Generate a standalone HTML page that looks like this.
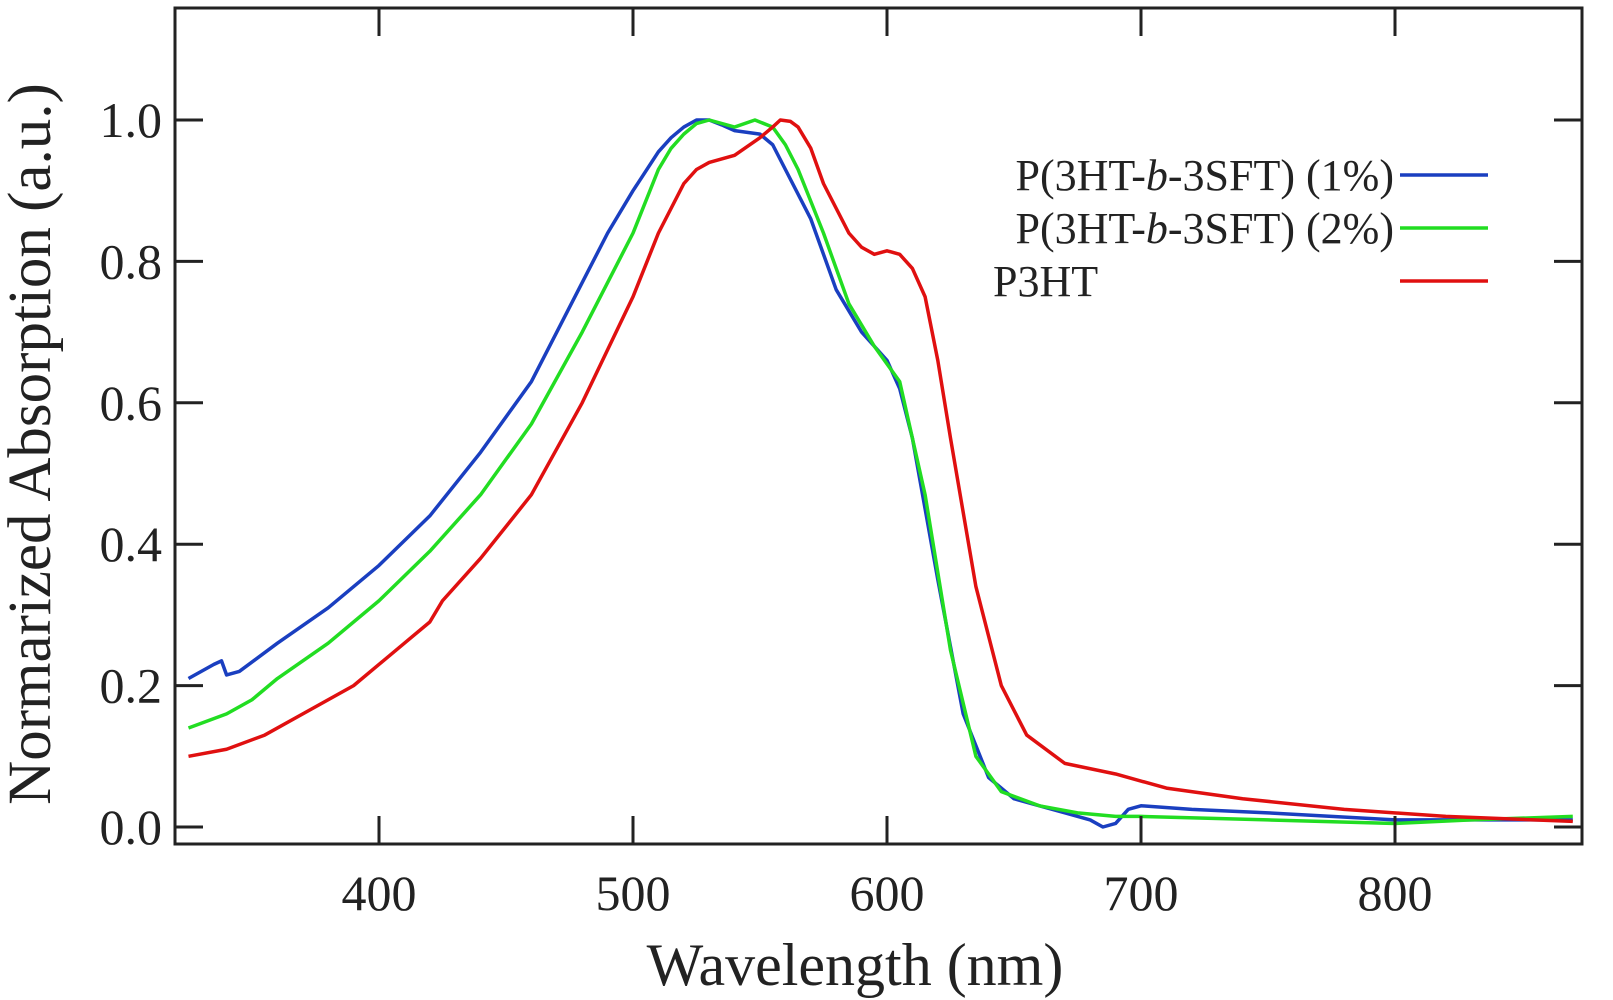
<!DOCTYPE html>
<html><head><meta charset="utf-8"><style>
body{margin:0;background:#fff}
svg{display:block;font-family:"Liberation Serif",serif}
</style></head><body>
<svg id="chart" width="1613" height="1000"></svg>
<script>
const xTicks=[400,500,600,700,800];
const yTicks=[0.0,0.2,0.4,0.6,0.8,1.0];
const yTickLabels=["0.0","0.2","0.4","0.6","0.8","1.0"];
const seriesNames=["P(3HT-b-3SFT) (1%)","P(3HT-b-3SFT) (2%)","P3HT"];
const blueWl=[325,335,338,340,345,360,380,400,420,440,460,480,490,500,510,515,520,525,530,535,540,550,555,560,570,580,590,600,605,610,620,630,640,650,660,670,680,685,690,695,700,720,750,800,870];
const blueAbs=[0.21,0.23,0.235,0.215,0.22,0.26,0.31,0.37,0.44,0.53,0.63,0.77,0.84,0.90,0.955,0.975,0.99,1.0,1.0,0.993,0.985,0.98,0.965,0.93,0.86,0.76,0.70,0.66,0.62,0.55,0.35,0.16,0.07,0.04,0.03,0.02,0.01,0.0,0.005,0.025,0.03,0.025,0.02,0.01,0.01];
const greenWl=[325,340,350,360,380,400,420,440,460,480,500,510,515,520,525,530,540,548,555,560,565,575,585,595,605,615,625,635,645,660,675,690,700,750,800,830,870];
const greenAbs=[0.14,0.16,0.18,0.21,0.26,0.32,0.39,0.47,0.57,0.70,0.84,0.93,0.96,0.98,0.995,1.0,0.99,1.0,0.99,0.965,0.93,0.84,0.74,0.68,0.63,0.47,0.25,0.10,0.05,0.03,0.02,0.015,0.015,0.01,0.005,0.01,0.015];
const redWl=[325,340,355,370,390,410,420,425,440,460,480,500,510,520,525,530,540,550,555,558,562,565,570,575,585,590,595,600,605,610,615,620,625,635,645,655,670,690,710,740,780,820,870];
const redAbs=[0.10,0.11,0.13,0.16,0.20,0.26,0.29,0.32,0.38,0.47,0.60,0.75,0.84,0.91,0.93,0.94,0.95,0.975,0.99,1.0,0.998,0.99,0.96,0.91,0.84,0.82,0.81,0.815,0.81,0.79,0.75,0.66,0.55,0.34,0.20,0.13,0.09,0.075,0.055,0.04,0.025,0.015,0.008];

const L=175,R=1582,T=8,B=844;
const X=v=>379+(v-400)*2.54;
const Y=v=>827-v*707;
const svg=document.getElementById('chart');
const NS='http://www.w3.org/2000/svg';
function mk(tag,attrs,parent){const e=document.createElementNS(NS,tag);for(const k in attrs)e.setAttribute(k,attrs[k]);(parent||svg).appendChild(e);return e;}

const clip=mk('clipPath',{id:'pc'});mk('rect',{x:L,y:T,width:R-L,height:B-T},clip);
const plot=mk('g',{'clip-path':'url(#pc)'});
const series=[[blueWl,blueAbs,'#1a3fc0','blue'],[greenWl,greenAbs,'#22dd22','green'],[redWl,redAbs,'#e01010','red']];
series.forEach(([w,a,c,n])=>{
  const p=mk('polyline',{points:w.map((v,i)=>X(v)+','+Y(a[i])).join(' '),fill:'none',stroke:c,'stroke-width':3.5,'stroke-linejoin':'round'},plot);
  
  
});

const frame=mk('rect',{x:L,y:T,width:R-L,height:B-T,fill:'none',stroke:'#222','stroke-width':3});



xTicks.forEach(v=>{
  mk('line',{x1:X(v),x2:X(v),y1:B,y2:B-28,stroke:'#222','stroke-width':3});
  mk('line',{x1:X(v),x2:X(v),y1:T,y2:T+28,stroke:'#222','stroke-width':3});
  const t=mk('text',{x:X(v),y:910,'font-size':50,'text-anchor':'middle',fill:'#222'});
  t.textContent=v;
  
  
});
yTicks.forEach((v,i)=>{
  mk('line',{x1:L,x2:L+28,y1:Y(v),y2:Y(v),stroke:'#222','stroke-width':3});
  mk('line',{x1:R,x2:R-28,y1:Y(v),y2:Y(v),stroke:'#222','stroke-width':3});
  const t=mk('text',{x:162,y:Y(v)+17,'font-size':50,'text-anchor':'end',fill:'#222'});
  t.textContent=yTickLabels[i];
  
  
});

const xt=mk('text',{x:855,y:985,'font-size':60,'text-anchor':'middle',fill:'#222'});
xt.textContent='Wavelength (nm)';


const yt=mk('text',{x:0,y:0,'font-size':61,'text-anchor':'middle',fill:'#222',transform:'translate(50,444) rotate(-90)'});
yt.textContent='Normarized Absorption (a.u.)';



const legY=[175,228,281];
series.forEach(([w,a,c,n],i)=>{
  const g=mk('g',{});
  
  
  mk('line',{x1:1400,x2:1488,y1:legY[i],y2:legY[i],stroke:c,'stroke-width':3.5},g);
  const t=mk('text',{x:1394,y:legY[i]+15,'font-size':44,'text-anchor':'end',fill:'#222'},g);
  const nm=seriesNames[i];
  const idx=nm.indexOf('-b-');
  if(idx>=0){
    t.appendChild(document.createTextNode(nm.slice(0,idx+1)));
    const s=mk('tspan',{'font-style':'italic'},t);s.textContent='b';
    t.appendChild(document.createTextNode(nm.slice(idx+2)));
  } else {
    t.setAttribute('text-anchor','start');t.setAttribute('x',993);
    t.textContent=nm;
  }
});
</script>
</body></html>
